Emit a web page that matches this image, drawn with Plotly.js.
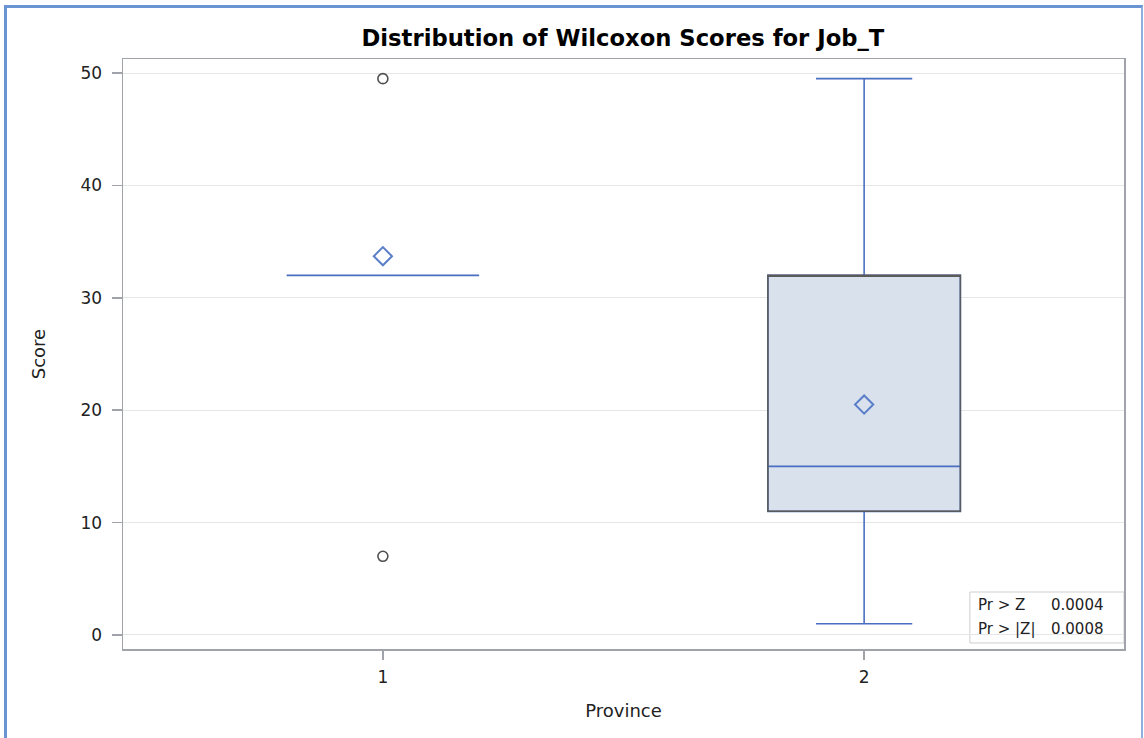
<!DOCTYPE html>
<html>
<head>
<meta charset="utf-8">
<script src="https://cdn.plot.ly/plotly-3.0.1.min.js"></script>
<style>
  html, body { margin: 0; padding: 0; background: #fff; }
  #frame { position: absolute; left: 4px; top: 5px; width: 1134px; height: 740px;
           border-left: 3px solid #6a94d4; border-top: 3px solid #6a94d4; border-right: 2px solid #8fb0e0; }
  #chart { position: absolute; left: 0; top: 0; width: 1144px; height: 738px; }
</style>
</head>
<body>
<div id="frame"></div>
<div id="chart"></div>
<script>
// Data
var provinces   = [1, 2];
var tickLabels  = ['1', '2'];
var q1Values    = [32, 11];
var medianValues= [32, 15];
var q3Values    = [32, 32];
var lowerWhisk  = [32, 1];
var upperWhisk  = [32, 49.5];
var meanValues  = [33.7, 20.5];
var outlierX    = [1, 1];
var outlierY    = [49.5, 7];
var statLabels  = ['Pr > Z', 'Pr > |Z|'];
var statValues  = ['0.0004', '0.0008'];

var blue = '#4a6fc2';
var fill = '#d9e1ec';
var FONT = 'DejaVu Sans, sans-serif';

// Box with blue whiskers and median
var boxTrace = {
  type: 'box', x: provinces, q1: q1Values, median: medianValues, q3: q3Values,
  lowerfence: lowerWhisk, upperfence: upperWhisk,
  width: 0.4, whiskerwidth: 0.5,
  fillcolor: fill, line: {color: blue, width: 1.6},
  boxpoints: false, hoverinfo: 'skip', showlegend: false
};

// Dark outline for boxes that have a non-zero height
var ox = [], oq1 = [], oq3 = [];
for (var i = 0; i < provinces.length; i++) {
  if (q3Values[i] > q1Values[i]) { ox.push(provinces[i]); oq1.push(q1Values[i]); oq3.push(q3Values[i]); }
}
var outlineTrace = {
  type: 'box', x: ox, q1: oq1, median: oq3, q3: oq3, lowerfence: oq1, upperfence: oq3,
  width: 0.4, whiskerwidth: 0, fillcolor: 'rgba(0,0,0,0)',
  line: {color: '#5a5a5a', width: 1.5}, boxpoints: false, hoverinfo: 'skip', showlegend: false
};

var meanTrace = {
  type: 'scatter', mode: 'markers', x: provinces, y: meanValues,
  marker: {symbol: 'diamond-open', size: 14, color: '#5b7ec8', line: {width: 2, color: '#5b7ec8'}},
  hoverinfo: 'skip', showlegend: false
};

var outlierTrace = {
  type: 'scatter', mode: 'markers', x: outlierX, y: outlierY,
  marker: {symbol: 'circle-open', size: 10, color: '#505050', line: {width: 1.6, color: '#505050'}},
  hoverinfo: 'skip', showlegend: false
};

var axisFont = {family: FONT, size: 17, color: '#222'};

var annotations = [];
var rowY = [0.0746, 0.0339];
for (var j = 0; j < statLabels.length; j++) {
  annotations.push({xref: 'paper', yref: 'paper', x: 0.852, y: rowY[j], xanchor: 'left', yanchor: 'middle',
    text: statLabels[j], showarrow: false, font: {family: FONT, size: 15, color: '#222'}});
  annotations.push({xref: 'paper', yref: 'paper', x: 0.982, y: rowY[j], xanchor: 'right', yanchor: 'middle',
    text: statValues[j], showarrow: false, font: {family: FONT, size: 15, color: '#222'}});
}

var layout = {
  width: 1144, height: 738,
  margin: {l: 123, r: 20, t: 59, b: 89, pad: 0},
  paper_bgcolor: 'rgba(0,0,0,0)', plot_bgcolor: '#fff',
  boxmode: 'overlay',
  title: {text: 'Distribution of Wilcoxon Scores for Job_T', x: 0.5445, xanchor: 'center', y: 0.948, yanchor: 'middle',
          font: {family: FONT, size: 22.7, color: '#000', weight: 'bold'}},
  xaxis: {
    range: [0.46, 2.54], tickvals: provinces, ticktext: tickLabels,
    ticks: 'outside', ticklen: 9, tickcolor: '#a0a4aa', tickwidth: 1.5, ticklabelstandoff: 3,
    showline: true, linecolor: '#a0a4aa', linewidth: 1.5, mirror: true,
    showgrid: false, zeroline: false, tickfont: axisFont,
    title: {text: 'Province', font: {family: FONT, size: 18, color: '#222'}, standoff: 18}
  },
  yaxis: {
    range: [-1.25, 51.25], tickvals: [0, 10, 20, 30, 40, 50],
    ticks: 'outside', ticklen: 10, tickcolor: '#a0a4aa', tickwidth: 1.5, ticklabelstandoff: 6,
    showline: true, linecolor: '#a0a4aa', linewidth: 1.5, mirror: true,
    showgrid: true, gridcolor: '#e6e6e6', gridwidth: 1, zeroline: false, tickfont: axisFont,
    title: {text: 'Score', font: {family: FONT, size: 18, color: '#222'}, standoff: 30}
  },
  shapes: [{type: 'rect', xref: 'paper', yref: 'paper', x0: 0.846, x1: 1.0, y0: 0.0102, y1: 0.0966,
            line: {color: '#cfcfcf', width: 1}, fillcolor: '#fff', layer: 'below'}],
  annotations: annotations
};

Plotly.newPlot('chart', [boxTrace, outlineTrace, meanTrace, outlierTrace], layout, {displayModeBar: false, staticPlot: true});
</script>
</body>
</html>
